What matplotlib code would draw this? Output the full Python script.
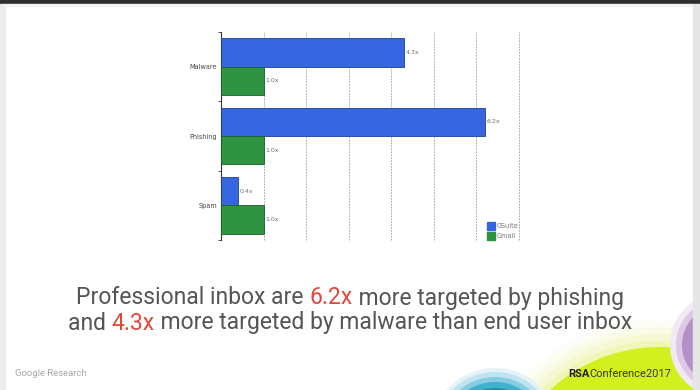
import matplotlib

matplotlib.use("Agg")
import matplotlib.pyplot as plt
from matplotlib.lines import Line2D
from matplotlib.patches import Circle, Rectangle

# chart data
categories = ["Malware", "Phishing", "Spam"]
gsuite = [4.3, 6.2, 0.4]
gmail = [1.0, 1.0, 1.0]
series_names = ["GSuite", "Gmail"]
x_max = 7

BLUE = "#3566e0"
GREEN = "#2f9441"
GRAY_TXT = "#555555"
RED_TXT = "#e2473b"

W, H = 700, 390
fig = plt.figure(figsize=(7, 3.9), dpi=100)
fig.patch.set_facecolor("white")

# slide background / decorations in pixel space
bg = fig.add_axes([0, 0, 1, 1])
bg.set_xlim(0, W)
bg.set_ylim(H, 0)
bg.axis("off")
bg.add_patch(Rectangle((0, 0), W, 4, color="#2e2e2e", zorder=1))
bg.add_patch(Rectangle((0, 4), 5, H, color="#ececec", zorder=1))
bg.add_patch(Rectangle((5, 4), 688, 2, color="#f2f2f2", zorder=1))
# yellow-green blob with soft halo
for r, a in [(190, 0.08), (182, 0.12), (175, 0.18), (168, 0.3)]:
    bg.add_patch(Circle((660, 509), r, color="#e4f27a", alpha=a, lw=0, zorder=2))
bg.add_patch(Circle((660, 509), 162, color="#d2ef1e", lw=0, zorder=2))
# purple sliver on right
for r, c in [(52, "#f1e9f4"), (46, "#ddc8e6"), (40, "#b58fc8")]:
    bg.add_patch(Circle((722, 345), r, color=c, lw=0, zorder=3))
# teal rings
for r, c in [(64, "#e3f3f8"), (60, "#bfe4f0"), (55, "#86cde3"), (50, "#3fb0cf"), (44, "#16979f")]:
    bg.add_patch(Circle((495, 432), r, color=c, lw=0, zorder=3))
bg.add_patch(Rectangle((693, 4), 7, H, color="#e6e6e6", zorder=4))

# bar chart
ax = fig.add_axes([221.4 / W, 1 - 240 / H, 297.3 / W, 208 / H])
ax.set_facecolor("none")
pos = list(range(len(categories)))
h = 0.41
ax.barh([p - h / 2 for p in pos], gsuite, height=h, color=BLUE,
        edgecolor="#1f3f99", lw=0.6, zorder=3)
ax.barh([p + h / 2 for p in pos], gmail, height=h, color=GREEN,
        edgecolor="#1d5e2a", lw=0.6, zorder=3)
for p, v in zip(pos, gsuite):
    ax.text(v + 0.04, p - h / 2, f"{v:.1f}x", fontsize=4.5, color="#707070",
            va="center", ha="left", zorder=4)
for p, v in zip(pos, gmail):
    ax.text(v + 0.04, p + h / 2, f"{v:.1f}x", fontsize=4.5, color="#707070",
            va="center", ha="left", zorder=4)

ax.set_xlim(0, x_max)
ax.set_ylim(len(categories) - 0.5, -0.5)
ax.set_yticks(pos)
ax.set_yticklabels(categories, fontsize=4.7, color="#444444")
ax.set_yticks([p + 0.5 for p in pos[:-1]] + [-0.5, len(categories) - 0.5], minor=True)
ax.tick_params(axis="y", which="major", length=0, pad=3)
ax.tick_params(axis="y", which="minor", length=2, width=0.6, color="#333333")
ax.set_xticks([])
for gx in range(1, x_max + 1):
    ax.axvline(gx, color="#9a9a9a", lw=0.6, ls=(0, (2, 1.5)), zorder=1, clip_on=False)
for s in ["top", "right", "bottom"]:
    ax.spines[s].set_visible(False)
ax.spines["left"].set_color("#333333")
ax.spines["left"].set_linewidth(0.8)

# legend (rounded squares)
for i, (name, c) in enumerate(zip(series_names, [BLUE, GREEN])):
    y = 226 + i * 9.5
    bg.add_line(Line2D([490.5], [y], marker="s", ms=5.5, color=c,
                       markeredgecolor=c, zorder=5))
    bg.text(497, y, name, fontsize=4.7, color="#777777", va="center", ha="left", zorder=5)

# headline with coloured numbers
lines = [
    [("Professional inbox are ", GRAY_TXT), ("6.2x", RED_TXT),
     (" more targeted by phishing", GRAY_TXT)],
    [("and ", GRAY_TXT), ("4.3x", RED_TXT),
     (" more targeted by malware than end user inbox", GRAY_TXT)],
]
renderer = fig.canvas.get_renderer()
for row, parts in enumerate(lines):
    yc = 298 + row * 25
    first = bg.text(0, yc, parts[0][0], color=parts[0][1], fontsize=16.5,
                    family="Roboto", va="center", ha="left", zorder=6)
    prev, texts = first, [first]
    for s, c in parts[1:]:
        t = bg.annotate(s, xy=(1, 0), xycoords=prev, va="bottom", ha="left",
                        color=c, fontsize=16.5, family="Roboto", zorder=6)
        texts.append(t)
        prev = t
    fig.canvas.draw()
    x0 = texts[0].get_window_extent(renderer).x0
    x1 = texts[-1].get_window_extent(renderer).x1
    first.set_x(W / 2 - (x1 - x0) / 2)

bg.text(15, 374, "Google Research", fontsize=6.8, color="#a8a8a8",
        family="Roboto", va="center", ha="left", zorder=6)
rsa = bg.text(568, 374, "RSA", fontsize=8, color="#1e1e1e", fontweight="bold",
              family="Roboto", va="center", ha="left", zorder=6)
bg.annotate("Conference2017", xy=(1, 0), xycoords=rsa, va="bottom", ha="left",
            fontsize=8, color="#3a3a3a", family="Roboto", zorder=6)

fig.savefig("out.png", dpi=100)
